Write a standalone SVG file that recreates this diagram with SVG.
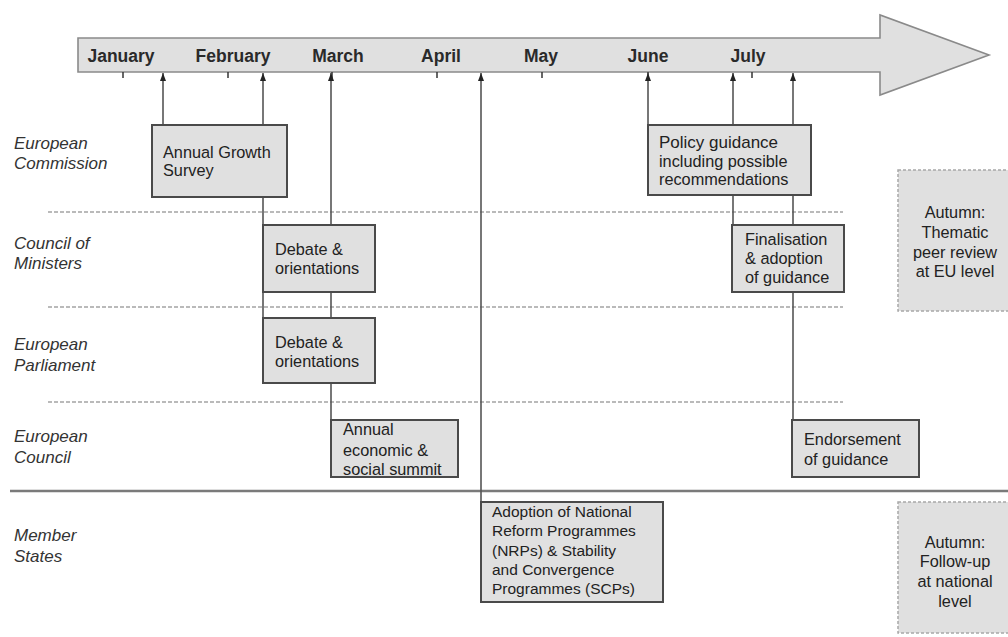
<svg xmlns="http://www.w3.org/2000/svg" width="1008" height="637" viewBox="0 0 1008 637">
<style>
.month{font-family:"Liberation Sans",Arial,sans-serif;font-size:17.5px;font-weight:bold;fill:#2a2a2a;text-anchor:middle}
.actor{font-family:"Liberation Sans",Arial,sans-serif;font-size:17px;font-style:italic;fill:#333}
.bx{fill:#e0e0e0;stroke:#4a4a4a;stroke-width:2}
.bt{font-family:"Liberation Sans",Arial,sans-serif;font-size:16.3px;fill:#222}
.au{fill:#e0e0e0;stroke:#a8a8a8;stroke-width:1.5;stroke-dasharray:3 2}
.at{font-family:"Liberation Sans",Arial,sans-serif;font-size:16.3px;fill:#222;text-anchor:middle}
.conn{stroke:#555;stroke-width:1.6;fill:none;marker-end:url(#ah)}
.tick{stroke:#333;stroke-width:1.5}
.sep{stroke:#777;stroke-width:1.2;stroke-dasharray:4 2}
</style>
<defs>
<marker id="ah" viewBox="0 0 8 6" refX="8" refY="3" markerWidth="8" markerHeight="6" markerUnits="userSpaceOnUse" orient="auto">
<path d="M0,0 L8,3 L0,6 z" fill="#222"/>
</marker>
</defs>
<rect width="1008" height="637" fill="#fff"/>

<g id="timeline">
<polygon points="78,38 880,38 880,15 989,55 880,95 880,72 78,72" fill="#e0e0e0" stroke="#8a8a8a" stroke-width="1.6"/>
<line class="tick" x1="123" y1="72" x2="123" y2="78"/>
<line class="tick" x1="228" y1="72" x2="228" y2="78"/>
<line class="tick" x1="332" y1="72" x2="332" y2="78"/>
<line class="tick" x1="437" y1="72" x2="437" y2="78"/>
<line class="tick" x1="542" y1="72" x2="542" y2="78"/>
<line class="tick" x1="648" y1="72" x2="648" y2="78"/>
<line class="tick" x1="752" y1="72" x2="752" y2="78"/>
<text class="month" x="121" y="62">January</text>
<text class="month" x="233" y="62">February</text>
<text class="month" x="338" y="62">March</text>
<text class="month" x="441" y="62">April</text>
<text class="month" x="541" y="62">May</text>
<text class="month" x="648" y="62">June</text>
<text class="month" x="748" y="62">July</text>
</g>

<g id="separators">
<line class="sep" x1="48" y1="212" x2="843" y2="212"/>
<line class="sep" x1="48" y1="307" x2="843" y2="307"/>
<line class="sep" x1="48" y1="402" x2="843" y2="402"/>
<line x1="10" y1="491" x2="1008" y2="491" stroke="#7a7a7a" stroke-width="2.5"/>
</g>

<g id="actors">
<text class="actor" x="14" y="149">European</text>
<text class="actor" x="14" y="169">Commission</text>
<text class="actor" x="14" y="249">Council of</text>
<text class="actor" x="14" y="269">Ministers</text>
<text class="actor" x="14" y="350">European</text>
<text class="actor" x="14" y="371">Parliament</text>
<text class="actor" x="14" y="442">European</text>
<text class="actor" x="14" y="463">Council</text>
<text class="actor" x="14" y="541">Member</text>
<text class="actor" x="14" y="562">States</text>
</g>

<g id="connectors">
<line class="conn" x1="163" y1="125" x2="163" y2="73"/>
<line class="conn" x1="263" y1="383" x2="263" y2="73"/>
<line class="conn" x1="331" y1="420" x2="331" y2="73"/>
<line class="conn" x1="481" y1="502" x2="481" y2="73"/>
<line class="conn" x1="648" y1="125" x2="648" y2="73"/>
<line class="conn" x1="733" y1="225" x2="733" y2="73"/>
<line class="conn" x1="793" y1="420" x2="793" y2="73"/>
</g>

<g id="annual-growth-survey">
<rect class="bx" x="152" y="125" width="135" height="72"/>
<text class="bt" x="163" y="158">Annual Growth</text>
<text class="bt" x="163" y="176">Survey</text>
</g>

<g id="policy-guidance">
<rect class="bx" x="648" y="125" width="163" height="70"/>
<text class="bt" x="659" y="148" style="font-size:17px">Policy guidance</text>
<text class="bt" x="659" y="167">including possible</text>
<text class="bt" x="659" y="185">recommendations</text>
</g>

<g id="council-debate">
<rect class="bx" x="263" y="225" width="112" height="67"/>
<text class="bt" x="275" y="255">Debate &amp;</text>
<text class="bt" x="275" y="274">orientations</text>
</g>

<g id="parliament-debate">
<rect class="bx" x="263" y="318" width="112" height="65"/>
<text class="bt" x="275" y="348">Debate &amp;</text>
<text class="bt" x="275" y="367">orientations</text>
</g>

<g id="finalisation">
<rect class="bx" x="732" y="225" width="112" height="67"/>
<text class="bt" x="745" y="245">Finalisation</text>
<text class="bt" x="745" y="264">&amp; adoption</text>
<text class="bt" x="745" y="283">of guidance</text>
</g>

<g id="annual-summit">
<rect class="bx" x="331" y="420" width="127" height="57"/>
<text class="bt" x="343" y="435">Annual</text>
<text class="bt" x="343" y="456">economic &amp;</text>
<text class="bt" x="343" y="475">social summit</text>
</g>

<g id="endorsement">
<rect class="bx" x="792" y="420" width="127" height="57"/>
<text class="bt" x="804" y="445">Endorsement</text>
<text class="bt" x="804" y="465">of guidance</text>
</g>

<g id="nrp-scp">
<rect class="bx" x="481" y="502" width="182" height="100"/>
<text class="bt" x="492" y="517" style="font-size:15.5px">Adoption of National</text>
<text class="bt" x="492" y="536" style="font-size:15.5px">Reform Programmes</text>
<text class="bt" x="492" y="556" style="font-size:15.5px">(NRPs) &amp; Stability</text>
<text class="bt" x="492" y="575" style="font-size:15.5px">and Convergence</text>
<text class="bt" x="492" y="594" style="font-size:15.5px">Programmes (SCPs)</text>
</g>

<g id="autumn-eu">
<rect class="au" x="898" y="170" width="125" height="141"/>
<text class="at" x="955" y="218">Autumn:</text>
<text class="at" x="955" y="238">Thematic</text>
<text class="at" x="955" y="258">peer review</text>
<text class="at" x="955" y="277">at EU level</text>
</g>

<g id="autumn-national">
<rect class="au" x="898" y="502" width="125" height="131"/>
<text class="at" x="955" y="548">Autumn:</text>
<text class="at" x="955" y="567">Follow-up</text>
<text class="at" x="955" y="587">at national</text>
<text class="at" x="955" y="607">level</text>
</g>
</svg>
